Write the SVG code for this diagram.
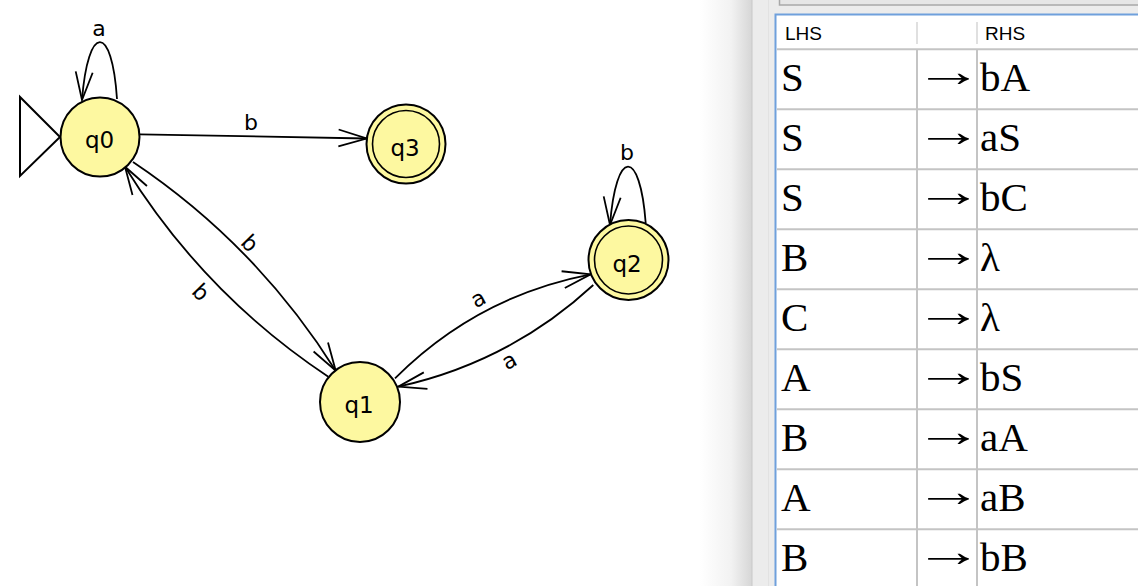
<svg xmlns="http://www.w3.org/2000/svg" width="1138" height="586" viewBox="0 0 1138 586">
<style>
.st{fill:#fdf8a0;stroke:#000;stroke-width:2}
.in{fill:none;stroke:#000;stroke-width:1.6}
.sl{font-family:"DejaVu Sans",sans-serif;font-size:23px;fill:#000;text-anchor:middle}
.ed{fill:none;stroke:#000;stroke-width:1.8}
.el{font-family:"DejaVu Sans",sans-serif;font-size:22px;fill:#000;text-anchor:middle}
.hd{font-family:"Liberation Sans",Arial,sans-serif;font-size:19px;fill:#000}
.cell{font-family:"Liberation Serif","Times New Roman",serif;font-size:41px;fill:#000}
.arr{font-family:"Liberation Serif","Times New Roman",serif;font-size:40px;fill:#000}
.grid{stroke:#c4c4c4;stroke-width:2}
</style>
<defs>
<marker id="ah" markerUnits="userSpaceOnUse" viewBox="-30 -12 32 24" refX="0" refY="0" markerWidth="32" markerHeight="24" orient="auto">
<path d="M-28,-8.5 L0,0 L-28,8.5" fill="none" stroke="#000" stroke-width="1.8"/>
</marker>
<linearGradient id="sh" x1="0" y1="0" x2="1" y2="0">
<stop offset="0" stop-color="#ffffff"/>
<stop offset="0.6" stop-color="#f2f2f2"/>
<stop offset="1" stop-color="#d6d6d6"/>
</linearGradient>
</defs>
<rect x="0" y="0" width="1138" height="586" fill="#ffffff"/>
<rect x="700" y="0" width="52" height="586" fill="url(#sh)"/>
<rect x="752" y="0" width="386" height="586" fill="#ececec"/>
<line x1="752" y1="0" x2="752" y2="586" stroke="#c8c8c8" stroke-width="1"/>
<line x1="768.5" y1="0" x2="768.5" y2="586" stroke="#e2e2e2" stroke-width="1"/>
<rect x="779.5" y="-5" width="370" height="10" fill="#e6e6e6" stroke="#a8a8a8" stroke-width="1.5"/>

<g id="table">
<rect x="775.5" y="14.5" width="380" height="580" fill="#ffffff" stroke="#6fa0dc" stroke-width="2"/>
<line x1="917" y1="22" x2="917" y2="44" stroke="#e0e0e0" stroke-width="2"/>
<line x1="977" y1="22" x2="977" y2="44" stroke="#e0e0e0" stroke-width="2"/>
<text class="hd" x="785" y="39.5">LHS</text>
<text class="hd" x="985" y="39.5">RHS</text>
<g class="grid">
<line x1="777" y1="49.3" x2="1138" y2="49.3"/>
<line x1="777" y1="109.3" x2="1138" y2="109.3"/>
<line x1="777" y1="169.3" x2="1138" y2="169.3"/>
<line x1="777" y1="229.3" x2="1138" y2="229.3"/>
<line x1="777" y1="289.3" x2="1138" y2="289.3"/>
<line x1="777" y1="349.3" x2="1138" y2="349.3"/>
<line x1="777" y1="409.3" x2="1138" y2="409.3"/>
<line x1="777" y1="469.3" x2="1138" y2="469.3"/>
<line x1="777" y1="529.3" x2="1138" y2="529.3"/>
<line x1="917" y1="49.3" x2="917" y2="586"/>
<line x1="977" y1="49.3" x2="977" y2="586"/>
</g>
<g class="cell">
<text x="781" y="90.5">S</text><text x="980" y="90.5">bA</text>
<text x="781" y="150.5">S</text><text x="980" y="150.5">aS</text>
<text x="781" y="210.5">S</text><text x="980" y="210.5">bC</text>
<text x="781" y="270.5">B</text><text x="980" y="270.5">λ</text>
<text x="781" y="330.5">C</text><text x="980" y="330.5">λ</text>
<text x="781" y="390.5">A</text><text x="980" y="390.5">bS</text>
<text x="781" y="450.5">B</text><text x="980" y="450.5">aA</text>
<text x="781" y="510.5">A</text><text x="980" y="510.5">aB</text>
<text x="781" y="570.5">B</text><text x="980" y="570.5">bB</text>
</g>
<g class="arr">
<text transform="translate(914,85.5) scale(1.73,1.1)">→</text>
<text transform="translate(914,145.5) scale(1.73,1.1)">→</text>
<text transform="translate(914,205.5) scale(1.73,1.1)">→</text>
<text transform="translate(914,265.5) scale(1.73,1.1)">→</text>
<text transform="translate(914,325.5) scale(1.73,1.1)">→</text>
<text transform="translate(914,385.5) scale(1.73,1.1)">→</text>
<text transform="translate(914,445.5) scale(1.73,1.1)">→</text>
<text transform="translate(914,505.5) scale(1.73,1.1)">→</text>
<text transform="translate(914,565.5) scale(1.73,1.1)">→</text>
</g>
</g>

<g id="connectors">
<path class="ed" d="M117,99 C112,23 88,23 82,100" marker-end="url(#ah)"/>
<text class="el" x="99" y="36">a</text>
<path class="ed" d="M140,134.3 L366.5,138.5" marker-end="url(#ah)"/>
<text class="el" x="251" y="130">b</text>
<path class="ed" d="M133,162 Q256.6,244.8 335.7,370.7" marker-end="url(#ah)"/>
<text class="el" transform="translate(250,243) rotate(46)" x="0" y="8">b</text>
<path class="ed" d="M328.3,376.7 Q203.7,294 125,166.7" marker-end="url(#ah)"/>
<text class="el" transform="translate(201,292) rotate(46)" x="0" y="8">b</text>
<path class="ed" d="M395,378.3 Q476.9,296.3 590.7,274.3" marker-end="url(#ah)"/>
<text class="el" transform="translate(479,300) rotate(-28)" x="0" y="6">a</text>
<path class="ed" d="M593.3,285 Q510,362 398.3,386.7" marker-end="url(#ah)"/>
<text class="el" transform="translate(510,362) rotate(-28)" x="0" y="6">a</text>
<path class="ed" d="M645.7,223 C640,147.6 616,147.6 610,225" marker-end="url(#ah)"/>
<text class="el" x="627" y="160">b</text>
</g>

<g id="q0">
<path d="M20,97 L20,176 L60,137 Z" fill="none" stroke="#000" stroke-width="2"/>
<circle class="st" cx="100" cy="137" r="39.5"/>
<text class="sl" x="99.5" y="148">q0</text>
</g>
<g id="q3">
<circle class="st" cx="406" cy="144" r="39.5"/>
<circle class="in" cx="406" cy="144" r="33.5"/>
<text class="sl" x="405" y="156">q3</text>
</g>
<g id="q2">
<circle class="st" cx="628.5" cy="260" r="40"/>
<circle class="in" cx="628.5" cy="260" r="34"/>
<text class="sl" x="627" y="272">q2</text>
</g>
<g id="q1">
<circle class="st" cx="360" cy="402" r="40"/>
<text class="sl" x="359" y="413">q1</text>
</g>
</svg>
